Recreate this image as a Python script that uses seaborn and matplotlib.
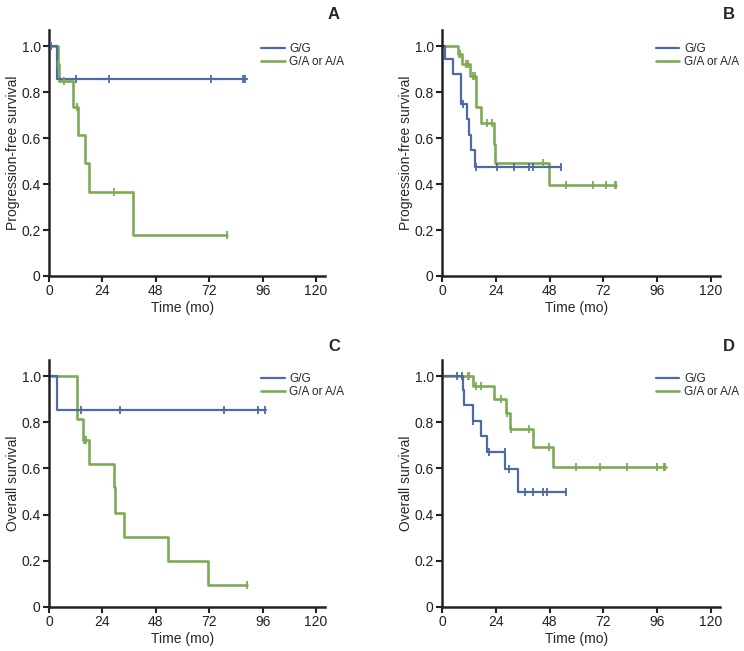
import numpy as np
import pandas as pd
import seaborn as sns
import matplotlib.pyplot as plt

# step curves: times where survival changes, and the level after each time
# panel A: progression-free survival
a_gg_t = [0, 3.4, 89]
a_gg_s = [1.0, 0.855, 0.855]
a_gg_c = [1, 12.3, 27, 72.8, 87, 88]
a_ga_t = [0, 4.0, 4.3, 10.6, 13.2, 16.2, 18.1, 37.9, 79.9]
a_ga_s = [1.0, 0.92, 0.846, 0.735, 0.613, 0.49, 0.365, 0.178, 0.178]
a_ga_c = [4.2, 6.9, 12.4, 29.4, 79.9]

# panel B: progression-free survival
b_gg_t = [0, 1.2, 4.8, 8.5, 11.2, 12.0, 12.9, 14.5, 53.1]
b_gg_s = [1.0, 0.944, 0.88, 0.75, 0.685, 0.615, 0.547, 0.475, 0.475]
b_gg_c = [9.3, 15.3, 24.5, 31.9, 38.9, 40.8, 53.1]
b_ga_t = [0, 7.2, 9.0, 12.4, 15.0, 17.2, 23.2, 23.8, 47.9, 77.8]
b_ga_s = [1.0, 0.965, 0.92, 0.868, 0.733, 0.665, 0.575, 0.492, 0.395, 0.395]
b_ga_c = [7.4, 8.2, 10.5, 11.7, 13.9, 14.6, 20.2, 22.4, 45.2, 55.4, 67.3, 73.3, 77.1, 77.8]

# panel C: overall survival
c_gg_t = [0, 3.7, 97.3]
c_gg_s = [1.0, 0.853, 0.853]
c_gg_c = [14.2, 31.9, 78.7, 93.9, 97.1]
c_ga_t = [0, 12.7, 15.1, 18.1, 29.2, 29.7, 33.7, 53.3, 71.6, 89.1]
c_ga_s = [1.0, 0.814, 0.724, 0.618, 0.522, 0.408, 0.303, 0.2, 0.097, 0.097]
c_ga_c = [15.7, 16.6, 89.1]

# panel D: overall survival
d_gg_t = [0, 9.3, 9.9, 13.8, 17.2, 19.9, 28.1, 33.7, 55.5]
d_gg_s = [1.0, 0.938, 0.875, 0.807, 0.742, 0.673, 0.597, 0.497, 0.497]
d_gg_c = [6.7, 8.7, 13.8, 20.9, 27.9, 29.9, 37.1, 40.8, 44.9, 46.7, 55.1]
d_ga_t = [0, 13.8, 23.2, 28.4, 30.4, 40.6, 49.7, 99.8]
d_ga_s = [1.0, 0.956, 0.901, 0.84, 0.771, 0.694, 0.606, 0.606]
d_ga_c = [11.5, 12.0, 15.0, 17.4, 26.2, 28.9, 30.7, 38.9, 47.9, 59.9, 70.3, 82.7, 95.8, 98.8, 99.5]

groups = ["G/G", "G/A or A/A"]
panels = {
    "A": (a_gg_t, a_gg_s, a_gg_c, a_ga_t, a_ga_s, a_ga_c, "Progression-free survival"),
    "B": (b_gg_t, b_gg_s, b_gg_c, b_ga_t, b_ga_s, b_ga_c, "Progression-free survival"),
    "C": (c_gg_t, c_gg_s, c_gg_c, c_ga_t, c_ga_s, c_ga_c, "Overall survival"),
    "D": (d_gg_t, d_gg_s, d_gg_c, d_ga_t, d_ga_s, d_ga_c, "Overall survival"),
}
palette = {"G/G": "#4d6aa3", "G/A or A/A": "#7dab55"}

sns.set_style("white")
plt.rcParams["font.family"] = ["Liberation Sans", "DejaVu Sans"]

fig = plt.figure(figsize=(7.44, 6.51), dpi=100)
boxes = {
    "A": [49 / 744, 1 - 276 / 651, 276 / 744, 246 / 651],
    "B": [442 / 744, 1 - 276 / 651, 278 / 744, 246 / 651],
    "C": [49 / 744, 1 - 607 / 651, 276 / 744, 247 / 651],
    "D": [442 / 744, 1 - 607 / 651, 278 / 744, 247 / 651],
}
letter_pos = {"A": (0.457, 0.977), "B": (0.988, 0.977), "C": (0.457, 0.467), "D": (0.988, 0.467)}


def lookup(t, s, c):
    idx = np.searchsorted(np.array(t), np.array(c), side="right") - 1
    return np.array(s)[idx]


for key, (t1, s1, c1, t2, s2, c2, ylab) in panels.items():
    ax = fig.add_axes(boxes[key])
    curves = pd.concat([
        pd.DataFrame({"time": t1, "surv": s1, "group": groups[0]}),
        pd.DataFrame({"time": t2, "surv": s2, "group": groups[1]}),
    ])
    cens = pd.concat([
        pd.DataFrame({"time": c1, "surv": lookup(t1, s1, c1), "group": groups[0]}),
        pd.DataFrame({"time": c2, "surv": lookup(t2, s2, c2), "group": groups[1]}),
    ])
    # green first so blue sits on top like the original
    for g, lw in zip(groups[::-1], [1.9, 1.6]):
        sub = curves[curves.group == g]
        sns.lineplot(data=sub, x="time", y="surv", color=palette[g], lw=lw,
                     drawstyle="steps-post", estimator=None, sort=False, ax=ax, label=g)
        csub = cens[cens.group == g]
        sns.scatterplot(data=csub, x="time", y="surv", color=palette[g], marker="|",
                        s=30, linewidth=1.3, ax=ax, legend=False, zorder=3)
    handles, labels = ax.get_legend_handles_labels()
    order = [labels.index(g) for g in groups]
    ax.legend([handles[i] for i in order], groups, loc="upper left",
              bbox_to_anchor=(0.73, 0.99), frameon=False, fontsize=8.5,
              handlelength=2.0, handletextpad=0.4, labelspacing=0.1)

    ax.set_xlim(0, 124)
    ax.set_ylim(0, 1.07)
    ax.set_xticks([0, 24, 48, 72, 96, 120])
    ax.set_yticks([0, 0.2, 0.4, 0.6, 0.8, 1.0])
    ax.set_yticklabels(["0", "0.2", "0.4", "0.6", "0.8", "1.0"])
    ax.set_xlabel("Time (mo)", fontsize=10)
    ax.set_ylabel(ylab, fontsize=10)
    ax.xaxis.set_label_coords(120 / 124 / 2, -0.1)
    ax.yaxis.set_label_coords(-0.105, 0.5)
    sns.despine(ax=ax)
    for sp in ["left", "bottom"]:
        ax.spines[sp].set_linewidth(1.8)
        ax.spines[sp].set_color("#222222")
    ax.tick_params(axis="both", direction="out", length=4, width=1.5, labelsize=10,
                   colors="#222222", pad=2, bottom=True, left=True)
    fig.text(*letter_pos[key], key, fontsize=12, fontweight="bold", ha="right", va="center")

fig.savefig("out.png", dpi=100)
